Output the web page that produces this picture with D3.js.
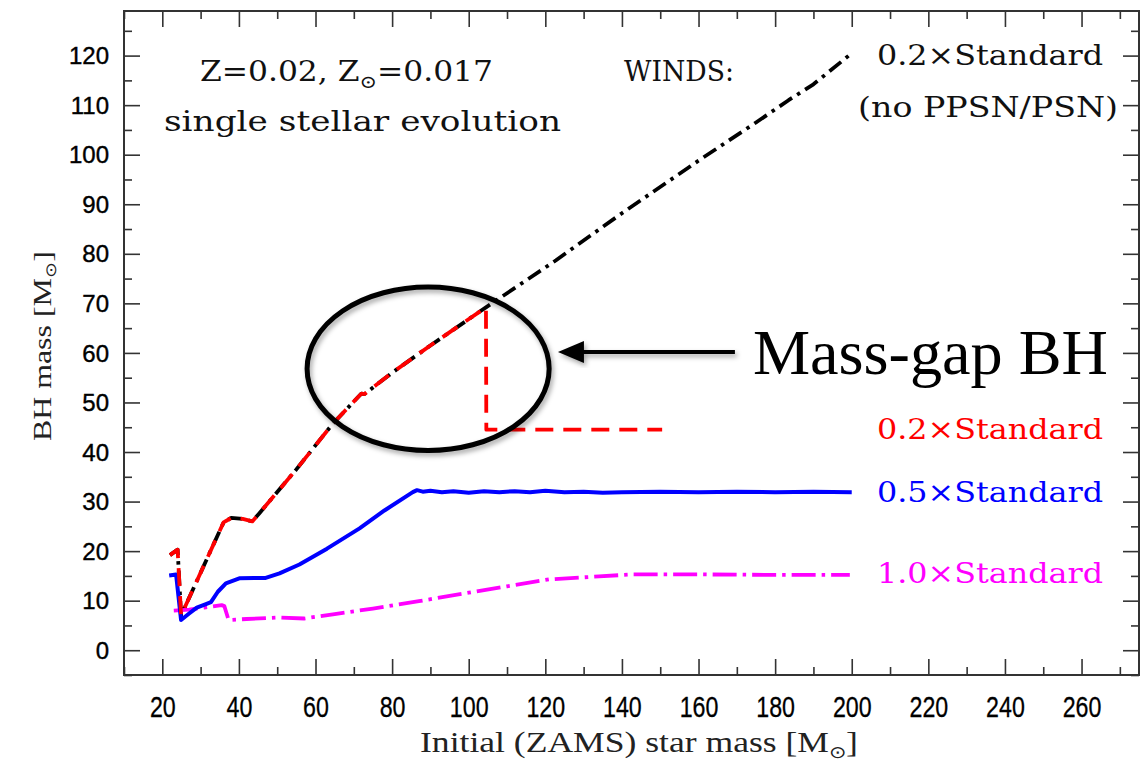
<!DOCTYPE html>
<html>
<head>
<meta charset="utf-8">
<script src="https://cdn.jsdelivr.net/npm/d3@7"></script>
<style>
  body { margin: 0; background: #fff; }
  svg { display: block; }
</style>
</head>
<body>
<div id="chart"></div>
<script>
// ZAMS mass vs BH mass, Z=0.02, three wind prescriptions
const noPpsnMass = [22, 24, 24.9, 36, 38, 41, 43.5, 45.3, 55, 64.5, 71, 72, 72.8, 80, 90, 104.5, 122.8, 140, 160, 175, 183.5, 190, 200.2];
const noPpsnBh   = [19.2, 20.3, 7, 25.8, 26.7, 26.5, 26, 27.6, 36.5, 45.7, 51, 51.8, 51.7, 56, 61.5, 69.2, 78.7, 88.2, 98.8, 106.5, 111, 114.2, 120.6];

const lowWindMass = [22, 24, 24.9, 36, 38, 41, 43.5, 45.3, 55, 64.5, 71, 72, 72.8, 80, 90, 104.5, 104.6, 150.5];
const lowWindBh   = [19.2, 20.3, 7, 25.8, 26.7, 26.5, 26, 27.6, 36.5, 45.7, 51, 51.8, 51.7, 56, 61.5, 69.2, 44.5, 44.5];

const halfWindMass = [21.8, 23.6, 24.9, 27, 29, 31.4, 32.7, 34.5, 36.6, 40.1, 44, 47, 50.6, 55.8, 63, 71.5, 78, 85.4, 86.5, 88, 90, 93, 96, 100, 104, 108, 112, 116, 120, 125, 130, 135, 140, 150, 160, 170, 180, 190, 200];
const halfWindBh   = [15.1, 15.3, 6.1, 7.4, 8.6, 9.3, 9.7, 11.8, 13.5, 14.5, 14.6, 14.6, 15.5, 17.3, 20.5, 24.6, 28.2, 31.9, 32.3, 32.0, 32.2, 31.9, 32.1, 31.8, 32.1, 31.9, 32.1, 31.9, 32.2, 31.9, 32.0, 31.8, 31.9, 32.0, 31.9, 32.0, 31.9, 32.0, 31.9];

const fullWindMass = [23, 27, 31, 35.5, 36.2, 37.3, 42, 50, 57, 65, 75, 87, 100, 110, 121, 134, 142.7, 160, 180, 199.5];
const fullWindBh   = [8.0, 8.2, 8.6, 9.1, 8.9, 6.1, 6.3, 6.6, 6.4, 7.3, 8.4, 9.9, 11.6, 12.9, 14.3, 14.9, 15.3, 15.3, 15.2, 15.2];

const xTicks = d3.range(20, 261, 20);
const xMinor = d3.range(10, 271, 10).filter(v => v % 20 !== 0);
const yTicks = d3.range(0, 121, 10);
const yMinor = d3.range(-5, 126, 5).filter(v => v % 10 !== 0);

const W = 1148, H = 761;
const frameLeft = 124, frameRight = 1139, frameTop = 11, frameBottom = 675;

const x = d3.scaleLinear([10, 275], [frameLeft, frameRight]);
const y = d3.scaleLinear([-5, 129], [frameBottom, frameTop]);

const svg = d3.select('#chart').append('svg')
    .attr('width', W)
    .attr('height', H);

const defs = svg.append('defs');
defs.append('filter')
    .attr('id', 'shadow')
    .attr('x', '-20%').attr('y', '-20%')
    .attr('width', '140%').attr('height', '140%')
  .append('feDropShadow')
    .attr('dx', 2).attr('dy', 3)
    .attr('stdDeviation', 2.5)
    .attr('flood-color', '#000')
    .attr('flood-opacity', 0.35);

// frame
svg.append('rect')
    .attr('x', frameLeft).attr('y', frameTop)
    .attr('width', frameRight - frameLeft).attr('height', frameBottom - frameTop)
    .attr('fill', 'none')
    .attr('stroke', '#333')
    .attr('stroke-width', 2);

const tickStyle = g => {
    g.select('.domain').remove();
    g.selectAll('.tick line').attr('stroke', '#333').attr('stroke-width', 1.6);
};

// major + minor ticks on all four sides
const addAxis = (axisFn, scale, pos, values, size, labels) => {
    const axis = axisFn(scale).tickValues(values).tickSize(-size);
    if (!labels) axis.tickFormat('');
    return svg.append('g').attr('transform', pos).call(axis).call(tickStyle);
};

const xAxis = addAxis(d3.axisBottom, x, `translate(0,${frameBottom})`, xTicks, 16, true);
addAxis(d3.axisBottom, x, `translate(0,${frameBottom})`, xMinor, 8, false);
addAxis(d3.axisTop, x, `translate(0,${frameTop})`, xTicks, 16, false);
addAxis(d3.axisTop, x, `translate(0,${frameTop})`, xMinor, 8, false);

const yAxis = addAxis(d3.axisLeft, y, `translate(${frameLeft},0)`, yTicks, 16, true);
addAxis(d3.axisLeft, y, `translate(${frameLeft},0)`, yMinor, 8, false);
addAxis(d3.axisRight, y, `translate(${frameRight},0)`, yTicks, 16, false);
addAxis(d3.axisRight, y, `translate(${frameRight},0)`, yMinor, 8, false);

xAxis.selectAll('.tick text')
    .attr('y', 21)
    .attr('dy', '0.71em')
    .attr('transform', 'scale(0.8,1)')
    .attr('fill', '#000')
    .attr('stroke', '#000')
    .attr('stroke-width', 0.3)
    .style('font', '29px "Liberation Sans", Arial, sans-serif');

yAxis.selectAll('.tick text')
    .attr('x', -15)
    .attr('dy', '0.34em')
    .attr('fill', '#000')
    .attr('stroke', '#000')
    .attr('stroke-width', 0.4)
    .style('font', '24px "Liberation Sans", Arial, sans-serif');

// axis titles
const title = svg.append('text')
    .attr('x', 420).attr('y', 752)
    .attr('textLength', 438)
    .attr('lengthAdjust', 'spacingAndGlyphs')
    .style('font', '29px "Liberation Serif", "Times New Roman", serif')
    .attr('fill', '#222');
title.append('tspan').text('Initial (ZAMS) star mass [M');
title.append('tspan').attr('dy', 6).style('font-size', '17px').text('⊙');
title.append('tspan').attr('dy', -6).text(']');

const ytitle = svg.append('text')
    .attr('transform', 'translate(51,441) rotate(-90)')
    .attr('textLength', 190)
    .attr('lengthAdjust', 'spacingAndGlyphs')
    .style('font', '25px "Liberation Serif", "Times New Roman", serif')
    .attr('fill', '#222');
ytitle.append('tspan').text('BH mass [M');
ytitle.append('tspan').attr('dy', 5).style('font-size', '15px').text('⊙');
ytitle.append('tspan').attr('dy', -5).text(']');

// series
const line = d3.line().x(d => x(d[0])).y(d => y(d[1]));
const zip = (a, b) => a.map((v, i) => [v, b[i]]);

const series = [
    {xs: noPpsnMass, ys: noPpsnBh, color: '#000', dash: '15,6,3.5,6', width: 3.8},
    {xs: fullWindMass, ys: fullWindBh, color: '#ff00ff', dash: '24,6,3.5,6', width: 3.8},
    {xs: halfWindMass, ys: halfWindBh, color: '#0000ff', dash: null, width: 4},
    {xs: lowWindMass, ys: lowWindBh, color: '#ff0000', dash: '18,10', width: 3.8}
];

svg.append('g')
    .selectAll('path')
    .data(series)
    .join('path')
    .attr('d', d => line(zip(d.xs, d.ys)))
    .attr('fill', 'none')
    .attr('stroke', d => d.color)
    .attr('stroke-width', d => d.width)
    .attr('stroke-dasharray', d => d.dash)
    .attr('stroke-linejoin', 'round');

// labels
const pgFont = '27px "DejaVu Serif", serif';
const label = (tx, ty, len, color, text) => svg.append('text')
    .attr('x', tx).attr('y', ty)
    .attr('textLength', len)
    .attr('lengthAdjust', 'spacingAndGlyphs')
    .attr('fill', color)
    .style('font', pgFont)
    .text(text);

const zText = svg.append('text')
    .attr('x', 200).attr('y', 81)
    .attr('textLength', 293)
    .attr('lengthAdjust', 'spacingAndGlyphs')
    .attr('fill', '#111')
    .style('font', pgFont);
zText.append('tspan').text('Z=0.02, Z');
zText.append('tspan').attr('dy', 7).style('font-size', '18px').text('⊙');
zText.append('tspan').attr('dy', -7).text('=0.017');

label(164, 131, 397, '#111', 'single stellar evolution');
label(624, 81, 110, '#111', 'WINDS:');
label(877, 65, 226, '#111', '0.2×Standard');
label(858, 117, 260, '#111', '(no PPSN/PSN)');
label(877, 439, 226, '#ff0000', '0.2×Standard');
label(877, 502, 226, '#0000ff', '0.5×Standard');
label(877, 583, 226, '#ff00ff', '1.0×Standard');

// mass-gap annotation
const gapCenter = [89.4, 56.8], gapRx = 31.6, gapRy = 16.5;
svg.append('ellipse')
    .attr('cx', x(gapCenter[0]))
    .attr('cy', y(gapCenter[1]))
    .attr('rx', x(gapCenter[0] + gapRx) - x(gapCenter[0]))
    .attr('ry', y(gapCenter[1]) - y(gapCenter[1] + gapRy))
    .attr('fill', 'none')
    .attr('stroke', '#000')
    .attr('stroke-width', 5)
    .attr('filter', 'url(#shadow)');

const arrowTip = [123.3, 60.2], arrowEnd = 169.5;
const ax = x(arrowTip[0]), ay = y(arrowTip[1]);
const arrow = svg.append('g').attr('filter', 'url(#shadow)');
arrow.append('line')
    .attr('x1', ax + 20).attr('y1', ay)
    .attr('x2', x(arrowEnd)).attr('y2', ay)
    .attr('stroke', '#000')
    .attr('stroke-width', 4);
arrow.append('path')
    .attr('d', `M${ax},${ay} L${ax + 26},${ay - 11} L${ax + 26},${ay + 11} Z`)
    .attr('fill', '#000');

svg.append('text')
    .attr('x', 753).attr('y', 374)
    .attr('textLength', 355)
    .attr('lengthAdjust', 'spacingAndGlyphs')
    .attr('fill', '#000')
    .style('font', '64px "Liberation Serif", "Times New Roman", serif')
    .text('Mass-gap BH');
</script>
</body>
</html>
